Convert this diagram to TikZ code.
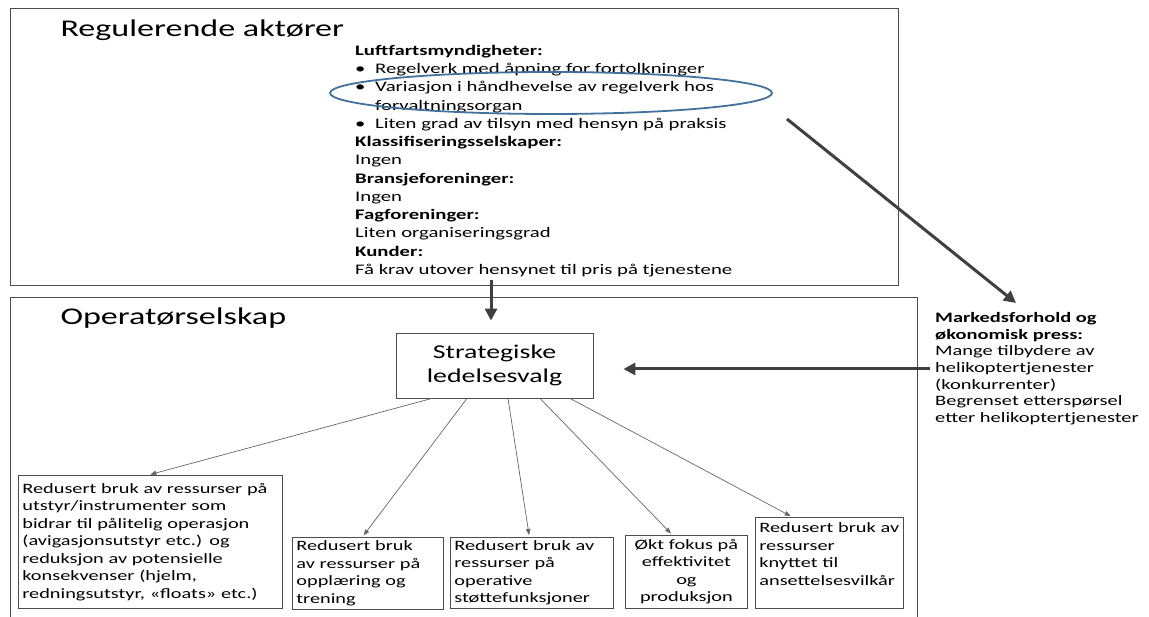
\documentclass[tikz,border=0pt]{standalone}
\usepackage{fontspec}
\setmainfont{Carlito}[FakeStretch=1.42]
\usetikzlibrary{arrows.meta}
\definecolor{ringblue}{RGB}{65,113,156}
\newcommand{\fs}[2]{\fontsize{#1}{#2}\selectfont}
\newcommand{\bul}{\makebox[20pt][l]{\textbullet}}
\begin{document}
\begin{tikzpicture}
      [x=1pt,y=-1pt
      ,frame/.style={draw=black!70,line width=.8pt}
      ,box/.style={frame,anchor=north west,inner xsep=4pt,inner ysep=0pt,align=left,font=\fs{14.3}{17.5}}
      ,big/.style={draw=black!75,line width=3pt,-{Triangle[length=12pt,width=12pt]}}
      ,small/.style={draw=black!60,line width=.7pt,-{Triangle[length=6pt,width=4.5pt]},shorten >=2pt}
      ,ring/.style={draw=ringblue,line width=1.8pt}
      ]
        \useasboundingbox (0,0) rectangle (1149,617);
        \node[frame,anchor=north west,minimum width=888pt,minimum height=277pt] (reg) at (10,8) {};
        \node[anchor=base west,font=\fs{24}{29}] (regtitle) at (57,37) {Regulerende aktører};
        \node[anchor=north west,inner sep=0pt,align=left,font=\fs{14.6}{18.25}] (info) at (355,45)
          {{\bfseries Luftfartsmyndigheter:}\\
           \bul Regelverk med åpning for fortolkninger\\
           \bul Variasjon i håndhevelse av regelverk hos\\
           \hspace*{20pt}forvaltningsorgan\\
           \bul Liten grad av tilsyn med hensyn på praksis\\
           {\bfseries Klassifiseringsselskaper:}\\
           Ingen\\
           {\bfseries Bransjeforeninger:}\\
           Ingen\\
           {\bfseries Fagforeninger:}\\
           Liten organiseringsgrad\\
           {\bfseries Kunder:}\\
           Få krav utover hensynet til pris på tjenestene};
        \draw[ring] (551,93) ellipse [x radius=221,y radius=21];
        \draw[frame] (10,617) -- (10,297) -- (917,297) -- (917,617);
        \node[anchor=base west,font=\fs{24}{29}] (oprtitle) at (57,325) {Operatørselskap};
        \node[frame,minimum width=197pt,minimum height=65pt,align=center,font=\fs{19.6}{24}] (strat) at (494.5,365.5)
          {Strategiske\\ledelsesvalg};
        \node[anchor=north west,inner sep=0pt,align=left,font=\fs{14.4}{16.7}] (market) at (935,312)
          {{\bfseries Markedsforhold og}\\
           {\bfseries økonomisk press:}\\
           Mange tilbydere av\\
           helikoptertjenester\\
           (konkurrenter)\\
           Begrenset etterspørsel\\
           etter helikoptertjenester};
        \node[box,text width=256pt,minimum height=133pt] (b1) at (18,475)
          {Redusert bruk av ressurser på\\utstyr/instrumenter som\\bidrar til pålitelig operasjon\\(avigasjonsutstyr etc.) og\\reduksjon av potensielle\\konsekvenser (hjelm,\\redningsutstyr, «floats» etc.)};
        \node[box,text width=143pt,minimum height=72pt] (b2) at (292,537)
          {Redusert bruk\\av ressurser på\\opplæring og\\trening};
        \node[box,text width=155pt,minimum height=71pt] (b3) at (450,537)
          {Redusert bruk av\\ressurser på\\operative\\støttefunksjoner};
        \node[box,text width=114pt,minimum height=73pt,align=center] (b4) at (625,535)
          {Økt fokus på\\effektivitet\\og\\produksjon};
        \node[box,text width=140pt,minimum height=91pt] (b5) at (755,517)
          {Redusert bruk av\\ressurser\\knyttet til\\ansettelsesvilkår\\ \mbox{}};
        \coordinate (v1) at (491,280);
        \coordinate (r1) at (787,119);
        \coordinate (m1) at (1016,303);
        \coordinate (m2) at (930,369);
        \draw[big] (v1) -- ([xshift=-3.5pt,yshift=12pt]strat.north);
        \draw[big] (r1) -- (m1);
        \draw[big] (m2) -- ([xshift=30pt,yshift=-3.5pt]strat.east);
        \foreach \i/\s/\t in {1/-62.5/-2,2/-27.5/-5.5,3/13.5/-2.5,4/45.5/-14,5/75.5/-37}{
          \draw[small] ([xshift=\s pt]strat.south) -- ([xshift=\t pt]b\i.north);
        }
      \end{tikzpicture}
\end{document}
